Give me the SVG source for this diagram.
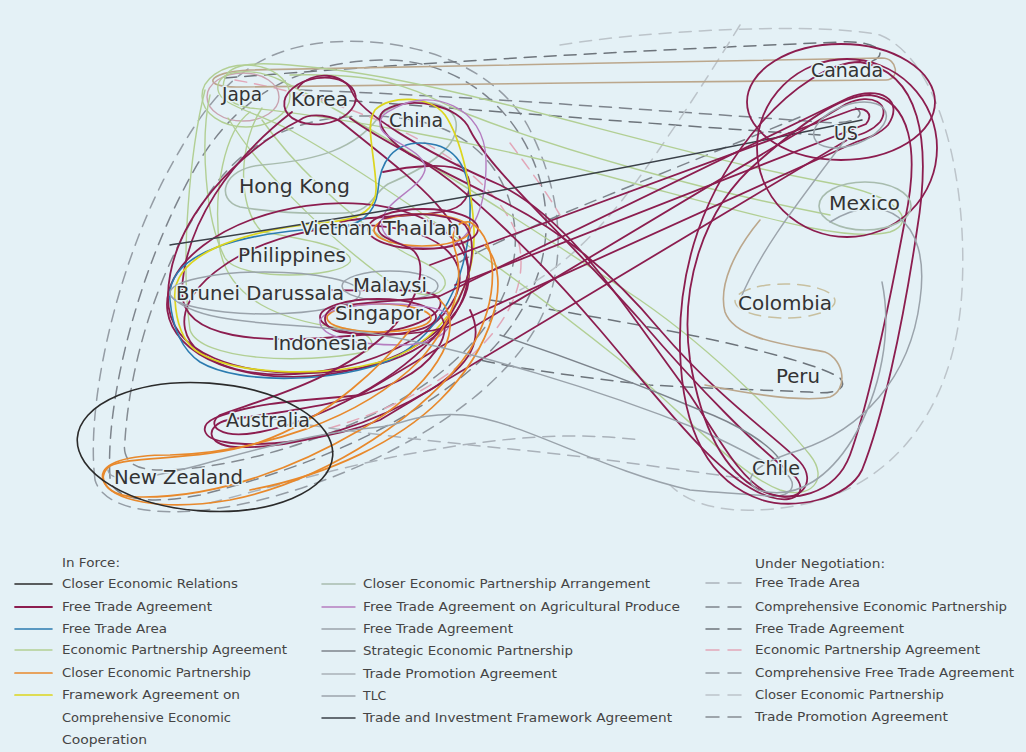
<svg xmlns="http://www.w3.org/2000/svg" width="1026" height="752" viewBox="0 0 1026 752">
<style>
.bg{fill:#e4f1f6}
path,ellipse,line{fill:none;stroke-width:1.4;stroke-linecap:round}
.m{stroke:#8c1d4f;stroke-width:1.8}
.k{stroke:#2b2b2b;stroke-width:1.6}
.b{stroke:#2b7bb0;stroke-width:1.6}
.g{stroke:#b2cf94}
.o{stroke:#e8892c;stroke-width:1.7}
.y{stroke:#dcd51e;stroke-width:1.7}
.cg{stroke:#a8bcae;stroke-width:1.6}
.p{stroke:#b57dc0}
.gr{stroke:#9aa3ab;stroke-width:1.5}
.sg{stroke:#7d848c;stroke-width:1.5}
.tp{stroke:#a9b1b8}
.tl{stroke:#9ca4ac}
.ti{stroke:#3a4048;stroke-width:1.5}
.tn{stroke:#bba78c;stroke-width:1.6}
.pk{stroke:#c9a3b0}
.d{stroke-dasharray:12 8;stroke-width:1.5}
.d1{stroke:#aab2ba}
.d2{stroke:#7d848c}
.d3{stroke:#6d747b}
.d4{stroke:#e2a7b8}
.d5{stroke:#959da5}
.d6{stroke:#bcc4ca}
.d7{stroke:#858c93}
.lbl{font-family:"DejaVu Sans","Liberation Sans",sans-serif;font-size:19px;fill:#333;stroke:#e4f1f6;stroke-width:3;paint-order:stroke;stroke-linejoin:round}
.lg{font-family:"DejaVu Sans","Liberation Sans",sans-serif;font-size:12.5px;fill:#444}
</style>
<rect class="bg" x="0" y="0" width="1026" height="752"/>

<g id="connectors">
  <!-- big dashed outlines -->
  <path class="d d6" d="M 560,45 C 650,30 820,22 880,35 C 940,60 968,180 962,290 C 956,400 900,485 800,505 C 730,518 690,505 670,485"/>
  <path class="d d5" d="M 95,480 C 85,400 120,250 180,150 C 220,80 260,48 330,42 C 420,36 500,70 530,130 C 560,190 570,260 540,320 C 500,400 380,470 260,500 C 180,520 105,515 95,480 Z"/>
  <path class="d d2" d="M 110,478 C 105,400 140,260 200,160 C 240,95 300,62 380,60 C 460,58 520,110 540,180 C 560,250 530,320 470,370 C 400,430 300,470 200,495 C 150,505 112,500 110,478 Z"/>
  <path class="d d7" d="M 125,440 C 130,360 160,260 215,185 C 260,125 330,110 400,118 C 470,126 510,170 515,230 C 520,300 470,360 400,400 C 330,440 230,470 160,470 C 130,470 122,458 125,440 Z"/>
  <path class="d d4" d="M 235,80 C 350,100 480,150 515,230 C 545,310 460,390 330,428"/>
  <!-- dashed to Americas -->
  <path class="d d3" d="M 225,78 C 400,64 600,52 840,42 C 880,40 890,55 870,62"/>
  <path class="d d2" d="M 300,90 C 450,95 650,110 820,122 C 860,126 870,112 850,105"/>
  <path class="d d3" d="M 310,98 C 460,108 660,125 820,135"/>
  <path class="d d6" d="M 740,25 C 700,90 660,150 630,190 C 600,230 560,270 520,290"/>
  <path class="d d2" d="M 800,117 C 720,150 620,190 560,215 C 520,232 480,250 460,262"/>
  <path class="d d3" d="M 470,297 C 560,310 640,325 700,337 C 760,350 820,365 840,378 C 850,390 830,395 810,392 C 760,390 700,388 650,385 C 560,375 500,365 480,360"/>
  <path class="d d1" d="M 270,418 C 330,430 420,440 520,450 C 600,458 680,470 740,478"/>
  <path class="d d1" d="M 210,503 C 260,490 330,470 393,457 C 480,440 560,430 640,440"/>
  <path class="d d4" d="M 510,143 C 530,170 545,190 560,215"/>
  <ellipse class="d" style="stroke:#c8c0a0" cx="785" cy="301" rx="50" ry="17"/>

  <!-- Japan / Korea area -->
  <path class="tn" d="M 882,58 C 700,62 400,66 250,70 C 205,72 200,88 240,87 C 400,84 700,82 886,80 C 900,80 898,58 882,58 Z"/>
  <ellipse class="pk" cx="243" cy="97" rx="36" ry="24"/>
  <ellipse class="g" cx="246" cy="96" rx="44" ry="31"/>
  <path class="g" d="M 225,78 C 230,62 260,62 300,66 C 450,78 650,150 830,183 C 900,196 918,222 890,232 C 850,242 780,222 640,185 C 480,140 320,115 250,108 C 225,104 220,90 225,78 Z"/>
  <path class="g" d="M 218,90 C 215,70 250,66 280,80 C 380,130 520,220 640,300 C 720,355 790,430 810,455 C 830,480 810,500 780,490 C 740,475 690,420 620,360 C 520,280 380,180 290,130 C 250,110 220,105 218,90 Z"/>
  <path class="g" d="M 210,95 C 200,140 205,220 225,258 C 240,282 340,278 350,262 C 356,248 300,238 262,232 C 235,205 240,140 262,108"/>
  <path class="g" d="M 205,90 C 190,150 180,260 190,330 C 200,360 300,365 365,352 C 380,345 370,330 340,328 C 280,320 230,300 220,250 C 212,190 225,130 250,112"/>
  <path class="g" d="M 228,118 C 260,170 320,230 380,275 C 410,298 440,300 445,285 C 448,270 420,262 400,250 C 340,210 290,160 262,120"/>
  <path class="cg" d="M 240,207 C 215,200 222,168 262,165 C 320,160 355,148 378,118 C 395,96 452,96 456,122 C 460,150 420,170 388,184 C 372,194 372,212 345,213 C 310,214 270,212 240,207 Z"/>
  <path class="g" d="M 290,75 C 400,72 420,95 470,115 C 560,150 700,190 830,215"/>

  <!-- Korea maroon -->
  <ellipse class="m" cx="320" cy="101" rx="36" ry="23" transform="rotate(-8 320 101)"/>
  <path class="m" d="M 300,120 C 240,150 170,220 168,295 C 166,355 240,378 330,372 C 420,366 470,320 468,268 C 466,215 400,170 345,125 C 335,115 310,112 300,120 Z"/>
  <path class="m" d="M 292,112 C 230,160 185,225 182,290 C 180,340 260,345 360,335 C 420,330 445,312 440,300 C 432,285 380,292 330,290"/>
  <path class="m" d="M 298,88 C 310,70 345,72 352,92 C 360,112 420,150 500,185 C 570,220 620,300 690,395 C 720,440 740,480 770,494 C 800,505 818,482 800,462 C 780,440 720,400 660,330 C 610,270 560,230 500,200 C 430,165 380,140 350,118"/>
  <path class="m" d="M 385,110 C 410,95 460,105 470,130 C 490,170 560,230 640,320 C 700,390 760,450 790,472 C 810,487 800,506 770,497 C 720,482 660,400 600,330 C 540,260 470,190 420,160 C 390,145 370,120 385,110 Z"/>
  <path class="m" d="M 383,172 C 410,166 450,162 465,172 C 475,185 468,205 450,210 C 420,218 370,215 340,222"/>

  <!-- ASEAN loops -->
  <ellipse class="m" cx="318" cy="290" rx="152" ry="85" transform="rotate(-8 318 290)"/>
  <ellipse class="m" cx="322" cy="300" rx="140" ry="70" transform="rotate(-12 322 300)"/>
  <path class="b" d="M 170,300 C 165,250 250,232 330,228 C 360,227 375,215 378,190 C 380,160 395,143 420,143 C 450,143 468,160 470,200 C 472,260 450,330 390,360 C 340,382 240,386 200,362 C 178,347 172,322 170,300 Z"/>
  <path class="y" d="M 175,300 C 170,255 240,230 330,222 C 360,219 378,210 376,185 C 374,150 365,125 375,110 C 390,95 430,95 445,115 C 462,140 472,190 474,230 C 476,290 440,345 380,362 C 320,378 230,375 195,350 C 180,338 176,318 175,300 Z"/>
  <path class="p" d="M 395,108 C 430,88 485,105 486,160 C 487,210 470,245 440,248 C 405,250 380,240 382,222 C 384,200 420,190 425,170 C 428,150 380,140 380,125 C 380,115 387,112 395,108 Z"/>
  <ellipse class="gr" cx="265" cy="293" rx="95" ry="21"/>
  <ellipse class="gr" cx="390" cy="286" rx="48" ry="15"/>
  <ellipse class="m" cx="423" cy="229" rx="55" ry="20"/>
  <ellipse class="o" cx="422" cy="230" rx="48" ry="16"/>
  <ellipse class="m" cx="378" cy="317" rx="58" ry="18"/>
  <ellipse class="o" cx="379" cy="318" rx="52" ry="14"/>
  <path class="p" d="M 320,320 C 330,300 420,300 445,312 C 460,325 440,345 400,345 C 360,345 318,338 320,320 Z"/>

  <!-- TIFA and lines to US -->
  <path class="ti" d="M 170,245 C 300,225 500,195 862,120"/>
  <path class="m" d="M 340,306 C 380,300 420,300 440,296 L 848,98 C 880,85 905,100 888,125 C 880,134 868,138 856,142 L 450,326 C 420,336 370,336 340,332 C 320,328 320,310 340,306 Z"/>
  <path class="m" d="M 215,418 C 260,400 320,400 360,395 L 846,104 C 872,92 892,104 880,122 C 872,131 862,134 852,137 L 380,420 C 330,440 260,448 225,442 C 200,438 200,425 215,418 Z"/>
  <path class="m" d="M 430,265 L 852,110 C 866,106 874,114 866,124 L 455,285"/>
  <ellipse class="gr" cx="850" cy="125" rx="38" ry="20" transform="rotate(-20 850 125)"/>

  <!-- Thailand / Australia / NZ -->
  <path class="m" d="M 380,222 C 390,210 450,212 465,225 C 480,245 470,290 440,330 C 400,380 320,420 260,432 C 220,440 205,425 220,415 C 260,400 340,380 390,330 C 420,300 430,260 410,248 C 390,240 372,235 380,222 Z"/>
  <path class="m" d="M 440,315 C 455,335 430,365 400,380 C 350,405 280,412 228,420 C 205,425 205,445 235,447 C 300,450 380,420 430,390 C 470,365 485,340 470,310"/>
  <path class="o" d="M 470,222 C 500,240 500,300 470,350 C 430,410 330,480 230,500 C 160,512 110,500 103,480 C 98,462 130,455 170,455 C 260,452 360,420 420,360 C 455,320 465,280 455,250 C 450,235 455,220 470,222 Z"/>
  <path class="o" d="M 440,300 C 470,330 430,390 360,430 C 300,465 220,498 140,497 C 105,497 95,477 110,466 C 130,455 200,462 260,442 C 330,418 385,362 410,330"/>
  <path class="o" d="M 485,245 C 515,280 490,350 440,400 C 400,440 330,475 250,490"/>
  <path class="gr" d="M 170,295 C 200,330 300,320 380,335 C 470,350 600,390 700,430 C 740,448 760,460 780,470 C 800,480 795,498 770,496 C 740,494 710,492 690,490 C 600,470 520,420 463,415 C 420,412 400,425 380,427 C 320,432 260,448 200,465 C 150,478 110,485 108,470"/>
  <path class="sg" d="M 500,335 C 560,355 640,385 700,410 C 740,425 770,445 780,460"/>
  <ellipse class="k" cx="205" cy="447" rx="128" ry="64" transform="rotate(4 205 447)"/>

  <!-- Americas -->
  <ellipse class="m" cx="841" cy="102" rx="94" ry="58"/>
  <ellipse class="m" cx="847" cy="148" rx="90" ry="89"/>
  <path class="m" d="M 870,95 C 910,100 920,150 905,220 C 890,300 870,400 850,455 C 835,495 790,505 760,490 C 720,470 700,420 690,360 C 680,290 700,210 760,160 C 800,125 840,95 870,95 Z"/>
  <path class="m" d="M 860,62 C 920,72 932,140 917,230 C 902,330 882,420 862,470 C 847,500 792,510 762,500 C 702,480 682,420 680,350 C 678,270 702,190 762,122 C 792,88 830,62 860,62 Z"/>
  <ellipse class="cg" cx="865" cy="206" rx="46" ry="24"/>
  <path class="gr" d="M 830,222 C 880,190 932,215 920,300 C 910,380 860,430 800,450 C 760,462 738,478 758,490 C 800,502 832,472 852,440 C 882,390 892,330 882,282"/>
  <path class="tn" d="M 760,220 C 735,250 718,285 725,312 C 735,340 790,345 825,352 C 845,360 848,390 830,397 C 800,403 740,392 705,385"/>
  <path class="tl" d="M 845,140 C 800,200 760,250 740,300"/>
</g>

<g id="japan"><text class="lbl" x="222" y="101" textLength="40" lengthAdjust="spacingAndGlyphs">Japa</text></g>
<g id="korea"><text class="lbl" x="291" y="106" textLength="57" lengthAdjust="spacingAndGlyphs">Korea</text></g>
<g id="china"><text class="lbl" x="389" y="127" textLength="54" lengthAdjust="spacingAndGlyphs">China</text></g>
<g id="hongkong"><text class="lbl" x="239" y="193" textLength="111" lengthAdjust="spacingAndGlyphs">Hong Kong</text></g>
<g id="vietnam"><text class="lbl" x="301" y="235" textLength="71" lengthAdjust="spacingAndGlyphs">Vietnan</text></g>
<g id="thailand"><text class="lbl" x="383" y="235" textLength="77" lengthAdjust="spacingAndGlyphs">Thailan</text></g>
<g id="philippines"><text class="lbl" x="238" y="262" textLength="108" lengthAdjust="spacingAndGlyphs">Philippines</text></g>
<g id="malaysia"><text class="lbl" x="353" y="292" textLength="74" lengthAdjust="spacingAndGlyphs">Malaysi</text></g>
<g id="brunei"><text class="lbl" x="176" y="300" textLength="168" lengthAdjust="spacingAndGlyphs">Brunei Darussala</text></g>
<g id="singapore"><text class="lbl" x="335" y="320" textLength="88" lengthAdjust="spacingAndGlyphs">Singapor</text></g>
<g id="indonesia"><text class="lbl" x="273" y="350" textLength="95" lengthAdjust="spacingAndGlyphs">Indonesia</text></g>
<g id="australia"><text class="lbl" x="226" y="427" textLength="84" lengthAdjust="spacingAndGlyphs">Australia</text></g>
<g id="newzealand"><text class="lbl" x="114" y="484" textLength="129" lengthAdjust="spacingAndGlyphs">New Zealand</text></g>
<g id="canada"><text class="lbl" x="811" y="77" textLength="72" lengthAdjust="spacingAndGlyphs">Canada</text></g>
<g id="us"><text class="lbl" x="834" y="140" textLength="24" lengthAdjust="spacingAndGlyphs">US</text></g>
<g id="mexico"><text class="lbl" x="829" y="210" textLength="71" lengthAdjust="spacingAndGlyphs">Mexico</text></g>
<g id="colombia"><text class="lbl" x="738" y="310" textLength="94" lengthAdjust="spacingAndGlyphs">Colombia</text></g>
<g id="peru"><text class="lbl" x="776" y="383" textLength="44" lengthAdjust="spacingAndGlyphs">Peru</text></g>
<g id="chile"><text class="lbl" x="752" y="475" textLength="48" lengthAdjust="spacingAndGlyphs">Chile</text></g>

<g id="legend">
  <text class="lg" x="62" y="567" textLength="58" lengthAdjust="spacingAndGlyphs">In Force:</text>
  <line class="k" x1="15" y1="584" x2="52" y2="584"/>
  <text class="lg" x="62" y="588" textLength="176" lengthAdjust="spacingAndGlyphs">Closer Economic Relations</text>
  <line class="m" x1="15" y1="607" x2="52" y2="607"/>
  <text class="lg" x="62" y="611" textLength="150" lengthAdjust="spacingAndGlyphs">Free Trade Agreement</text>
  <line class="b" x1="15" y1="629" x2="52" y2="629"/>
  <text class="lg" x="62" y="633" textLength="105" lengthAdjust="spacingAndGlyphs">Free Trade Area</text>
  <line class="g" x1="15" y1="650" x2="52" y2="650"/>
  <text class="lg" x="62" y="654" textLength="225" lengthAdjust="spacingAndGlyphs">Economic Partnership Agreement</text>
  <line class="o" x1="15" y1="673" x2="52" y2="673"/>
  <text class="lg" x="62" y="677" textLength="189" lengthAdjust="spacingAndGlyphs">Closer Economic Partnership</text>
  <line class="y" x1="15" y1="695" x2="52" y2="695"/>
  <text class="lg" x="62" y="699" textLength="178" lengthAdjust="spacingAndGlyphs">Framework Agreement on</text>
  <text class="lg" x="62" y="722" textLength="169" lengthAdjust="spacingAndGlyphs">Comprehensive Economic</text>
  <text class="lg" x="62" y="744" textLength="85" lengthAdjust="spacingAndGlyphs">Cooperation</text>

  <line class="cg" x1="322" y1="584" x2="355" y2="584"/>
  <text class="lg" x="363" y="588" textLength="287" lengthAdjust="spacingAndGlyphs">Closer Economic Partnership Arrangement</text>
  <line class="p" x1="322" y1="607" x2="355" y2="607"/>
  <text class="lg" x="363" y="611" textLength="317" lengthAdjust="spacingAndGlyphs">Free Trade Agreement on Agricultural Produce</text>
  <line class="gr" x1="322" y1="629" x2="355" y2="629"/>
  <text class="lg" x="363" y="633" textLength="150" lengthAdjust="spacingAndGlyphs">Free Trade Agreement</text>
  <line class="sg" x1="322" y1="651" x2="355" y2="651"/>
  <text class="lg" x="363" y="655" textLength="210" lengthAdjust="spacingAndGlyphs">Strategic Economic Partnership</text>
  <line class="tp" x1="322" y1="674" x2="355" y2="674"/>
  <text class="lg" x="363" y="678" textLength="194" lengthAdjust="spacingAndGlyphs">Trade Promotion Agreement</text>
  <line class="tl" x1="322" y1="696" x2="355" y2="696"/>
  <text class="lg" x="363" y="700">TLC</text>
  <line class="ti" x1="322" y1="718" x2="355" y2="718"/>
  <text class="lg" x="363" y="722" textLength="309" lengthAdjust="spacingAndGlyphs">Trade and Investment Framework Agreement</text>

  <text class="lg" x="755" y="568" textLength="130" lengthAdjust="spacingAndGlyphs">Under Negotiation:</text>
  <line class="d d1" x1="706" y1="583" x2="746" y2="583" style="stroke-dasharray:13 9"/>
  <text class="lg" x="755" y="587" textLength="105" lengthAdjust="spacingAndGlyphs">Free Trade Area</text>
  <line class="d d2" x1="706" y1="607" x2="746" y2="607" style="stroke-dasharray:13 9"/>
  <text class="lg" x="755" y="611" textLength="252" lengthAdjust="spacingAndGlyphs">Comprehensive Economic Partnership</text>
  <line class="d d3" x1="706" y1="629" x2="746" y2="629" style="stroke-dasharray:13 9"/>
  <text class="lg" x="755" y="633" textLength="149" lengthAdjust="spacingAndGlyphs">Free Trade Agreement</text>
  <line class="d d4" x1="706" y1="650" x2="746" y2="650" style="stroke-dasharray:13 9"/>
  <text class="lg" x="755" y="654" textLength="225" lengthAdjust="spacingAndGlyphs">Economic Partnership Agreement</text>
  <line class="d d5" x1="706" y1="673" x2="746" y2="673" style="stroke-dasharray:13 9"/>
  <text class="lg" x="755" y="677" textLength="259" lengthAdjust="spacingAndGlyphs">Comprehensive Free Trade Agreement</text>
  <line class="d d6" x1="706" y1="695" x2="746" y2="695" style="stroke-dasharray:13 9"/>
  <text class="lg" x="755" y="699" textLength="189" lengthAdjust="spacingAndGlyphs">Closer Economic Partnership</text>
  <line class="d d7" x1="706" y1="717" x2="746" y2="717" style="stroke-dasharray:13 9"/>
  <text class="lg" x="755" y="721" textLength="193" lengthAdjust="spacingAndGlyphs">Trade Promotion Agreement</text>
</g>
</svg>
